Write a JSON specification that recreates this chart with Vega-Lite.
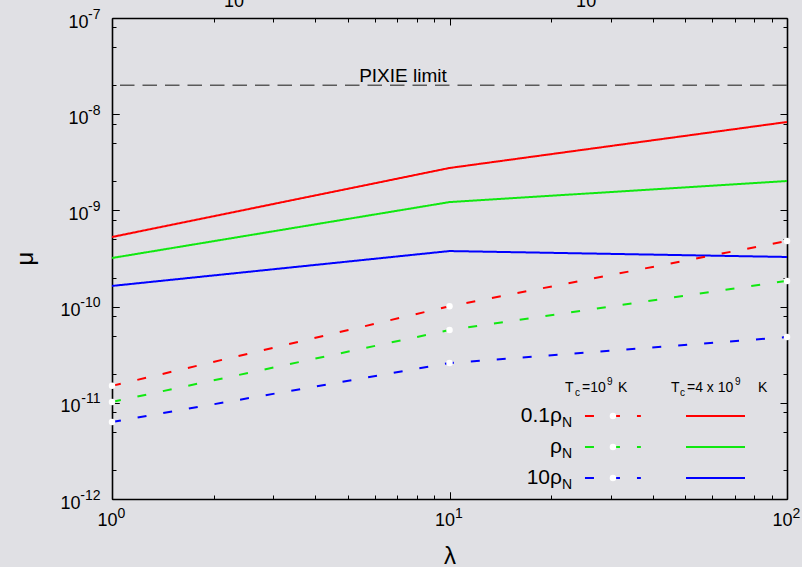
{
  "$schema": "https://vega.github.io/schema/vega-lite/v6.json",
  "width": 675,
  "height": 481,
  "autosize": {"type": "none"},
  "padding": {"left": 112, "top": 18, "right": 15, "bottom": 68},
  "background": "#e0e0e4",
  "config": {
    "view": {"stroke": null},
    "font": "Liberation Sans",
    "axis": {
      "grid": false,
      "domainColor": "#000000",
      "domainWidth": 1.6,
      "tickColor": "#000000",
      "tickWidth": 1,
      "labelColor": "#000000",
      "labelFont": "Liberation Sans",
      "labelFontSize": 18,
      "labelFlush": false,
      "labelOverlap": false,
      "titleColor": "#000000",
      "titleFont": "Liberation Sans",
      "titleFontWeight": "normal"
    },
    "text": {"font": "Liberation Sans", "color": "#000000"}
  },
  "datasets": {
    "curves": [
      {"lambda": 1, "mu": 5.29e-10, "rho": "0.1ρN", "Tc": "4e9"},
      {"lambda": 10, "mu": 2.76e-9, "rho": "0.1ρN", "Tc": "4e9"},
      {"lambda": 100, "mu": 8.3e-9, "rho": "0.1ρN", "Tc": "4e9"},
      {"lambda": 1, "mu": 3.2e-10, "rho": "ρN", "Tc": "4e9"},
      {"lambda": 10, "mu": 1.22e-9, "rho": "ρN", "Tc": "4e9"},
      {"lambda": 100, "mu": 2.02e-9, "rho": "ρN", "Tc": "4e9"},
      {"lambda": 1, "mu": 1.64e-10, "rho": "10ρN", "Tc": "4e9"},
      {"lambda": 10, "mu": 3.78e-10, "rho": "10ρN", "Tc": "4e9"},
      {"lambda": 100, "mu": 3.28e-10, "rho": "10ρN", "Tc": "4e9"},
      {"lambda": 1, "mu": 1.5e-11, "rho": "0.1ρN", "Tc": "1e9"},
      {"lambda": 10, "mu": 1.01e-10, "rho": "0.1ρN", "Tc": "1e9"},
      {"lambda": 100, "mu": 4.81e-10, "rho": "0.1ρN", "Tc": "1e9"},
      {"lambda": 1, "mu": 1.02e-11, "rho": "ρN", "Tc": "1e9"},
      {"lambda": 10, "mu": 5.71e-11, "rho": "ρN", "Tc": "1e9"},
      {"lambda": 100, "mu": 1.85e-10, "rho": "ρN", "Tc": "1e9"},
      {"lambda": 1, "mu": 6.31e-12, "rho": "10ρN", "Tc": "1e9"},
      {"lambda": 10, "mu": 2.59e-11, "rho": "10ρN", "Tc": "1e9"},
      {"lambda": 100, "mu": 4.83e-11, "rho": "10ρN", "Tc": "1e9"}
    ],
    "legendLines": [
      {"x": 25.2, "y": 7.29e-12, "rho": "0.1ρN", "Tc": "1e9"},
      {"x": 36.9, "y": 7.29e-12, "rho": "0.1ρN", "Tc": "1e9"},
      {"x": 50.2, "y": 7.29e-12, "rho": "0.1ρN", "Tc": "4e9"},
      {"x": 75.1, "y": 7.29e-12, "rho": "0.1ρN", "Tc": "4e9"},
      {"x": 25.2, "y": 3.47e-12, "rho": "ρN", "Tc": "1e9"},
      {"x": 36.9, "y": 3.47e-12, "rho": "ρN", "Tc": "1e9"},
      {"x": 50.2, "y": 3.47e-12, "rho": "ρN", "Tc": "4e9"},
      {"x": 75.1, "y": 3.47e-12, "rho": "ρN", "Tc": "4e9"},
      {"x": 25.2, "y": 1.65e-12, "rho": "10ρN", "Tc": "1e9"},
      {"x": 36.9, "y": 1.65e-12, "rho": "10ρN", "Tc": "1e9"},
      {"x": 50.2, "y": 1.65e-12, "rho": "10ρN", "Tc": "4e9"},
      {"x": 75.1, "y": 1.65e-12, "rho": "10ρN", "Tc": "4e9"}
    ],
    "legendPoints": [
      {"x": 30.5, "y": 7.29e-12},
      {"x": 30.5, "y": 3.47e-12},
      {"x": 30.5, "y": 1.65e-12}
    ],
    "legendText": [
      {"x": 21.54, "y": 7.29e-12, "text": "0.1ρ", "role": "rowMain"},
      {"x": 21.54, "y": 3.47e-12, "text": "ρ", "role": "rowMain"},
      {"x": 21.54, "y": 1.65e-12, "text": "10ρ", "role": "rowMain"},
      {"x": 21.54, "y": 7.29e-12, "text": "N", "role": "rowSub"},
      {"x": 21.54, "y": 3.47e-12, "text": "N", "role": "rowSub"},
      {"x": 21.54, "y": 1.65e-12, "text": "N", "role": "rowSub"},
      {"x": 21.99, "y": 1.294e-11, "text": "T", "role": "head"},
      {"x": 23.54, "y": 1.294e-11, "text": "c", "role": "headSub"},
      {"x": 24.7, "y": 1.294e-11, "text": "=10", "role": "head"},
      {"x": 29.29, "y": 1.294e-11, "text": "9", "role": "headSup"},
      {"x": 31.57, "y": 1.294e-11, "text": "K", "role": "head"},
      {"x": 45.33, "y": 1.294e-11, "text": "T", "role": "head"},
      {"x": 48.19, "y": 1.294e-11, "text": "c", "role": "headSub"},
      {"x": 50.54, "y": 1.294e-11, "text": "=4 x 10", "role": "head"},
      {"x": 70.15, "y": 1.294e-11, "text": "9", "role": "headSup"},
      {"x": 82.06, "y": 1.294e-11, "text": "K", "role": "head"}
    ],
    "pixie": [{"x": 7.28, "mu": 2e-8, "label": "PIXIE limit"}],
    "topLabels": [
      {"x": 2.3, "y": 1.3e-7, "text": "10"},
      {"x": 25.4, "y": 1.3e-7, "text": "10"}
    ]
  },
  "resolve": {"axis": {"x": "independent", "y": "independent"}},
  "layer": [
    {
      "data": {"name": "pixie"},
      "mark": {"type": "rule", "color": "#5a5a5a", "strokeWidth": 1.5, "strokeDash": [14.5, 8]},
      "encoding": {
        "y": {"field": "mu", "type": "quantitative", "scale": {"type": "log", "domain": [1e-12, 1e-7], "nice": false}, "axis": null}
      }
    },
    {
      "data": {"name": "curves"},
      "mark": {"type": "line", "strokeWidth": 2},
      "encoding": {
        "x": {
          "field": "lambda", "type": "quantitative",
          "scale": {"type": "log", "domain": [1, 100], "nice": false},
          "axis": {
            "orient": "bottom", "values": [1, 10, 100],
            "labelExpr": "'10'",
            "tickSize": -7, "labelPadding": 19, "labelBaseline": "top",
            "labelAlign": "right", "labelOffset": 5,
            "title": "λ", "titleFontSize": 24, "titleY": 64, "titleBaseline": "alphabetic"
          }
        },
        "y": {
          "field": "mu", "type": "quantitative",
          "scale": {"type": "log", "domain": [1e-12, 1e-7], "nice": false},
          "axis": {
            "orient": "left", "values": [1e-12, 1e-11, 1e-10, 1e-9, 1e-8, 1e-7],
            "labelExpr": "'10'",
            "tickSize": -7,
            "labelPadding": {"condition": {"test": "datum.value < 3e-10", "value": 39}, "value": 31},
            "labelOffset": 4,
            "title": "μ", "titleFontSize": 24, "titleX": -87, "titleY": 240,
            "titleAngle": -90, "titleAlign": "center", "titleBaseline": "middle"
          }
        },
        "color": {
          "field": "rho", "type": "nominal",
          "scale": {"domain": ["0.1ρN", "ρN", "10ρN"], "range": ["#ff0000", "#10e810", "#0000ff"]},
          "legend": null
        },
        "strokeDash": {
          "field": "Tc", "type": "nominal",
          "scale": {"domain": ["1e9", "4e9"], "range": [[9, 17], [1, 0]]},
          "legend": null
        }
      }
    },
    {
      "data": {"name": "curves"},
      "transform": [{"filter": "datum.Tc === '1e9'"}],
      "mark": {"type": "point", "filled": true, "color": "#ffffff", "opacity": 1, "size": 42},
      "encoding": {
        "x": {
          "field": "lambda", "type": "quantitative",
          "scale": {"type": "log", "domain": [1, 100], "nice": false},
          "axis": {
            "orient": "bottom", "values": [2, 3, 4, 5, 6, 7, 8, 9, 20, 30, 40, 50, 60, 70, 80, 90],
            "tickSize": -4, "labels": false, "domain": false, "title": null
          }
        },
        "y": {
          "field": "mu", "type": "quantitative",
          "scale": {"type": "log", "domain": [1e-12, 1e-7], "nice": false},
          "axis": {
            "orient": "left",
            "values": [2e-12, 5e-12, 8e-12, 2e-11, 5e-11, 8e-11, 2e-10, 5e-10, 8e-10, 2e-9, 5e-9, 8e-9, 2e-8, 5e-8, 8e-8],
            "tickSize": -4, "labels": false, "domain": false, "title": null
          }
        }
      }
    },
    {
      "data": {"name": "legendLines"},
      "mark": {"type": "line", "strokeWidth": 2},
      "encoding": {
        "x": {
          "field": "x", "type": "quantitative",
          "scale": {"type": "log", "domain": [1, 100], "nice": false},
          "axis": {"orient": "top", "values": [1, 10, 100], "tickSize": -7, "labels": false, "title": null}
        },
        "y": {
          "field": "y", "type": "quantitative",
          "scale": {"type": "log", "domain": [1e-12, 1e-7], "nice": false},
          "axis": {"orient": "right", "values": [1e-12, 1e-11, 1e-10, 1e-9, 1e-8, 1e-7], "tickSize": -7, "labels": false, "title": null}
        },
        "color": {"field": "rho", "type": "nominal", "legend": null},
        "strokeDash": {"field": "Tc", "type": "nominal", "legend": null}
      }
    },
    {
      "data": {"name": "legendPoints"},
      "mark": {"type": "point", "filled": true, "color": "#ffffff", "opacity": 1, "size": 42},
      "encoding": {
        "x": {
          "field": "x", "type": "quantitative",
          "scale": {"type": "log", "domain": [1, 100], "nice": false},
          "axis": {
            "orient": "top", "values": [2, 3, 4, 5, 6, 7, 8, 9, 20, 30, 40, 50, 60, 70, 80, 90],
            "tickSize": -4, "labels": false, "domain": false, "title": null
          }
        },
        "y": {
          "field": "y", "type": "quantitative",
          "scale": {"type": "log", "domain": [1e-12, 1e-7], "nice": false},
          "axis": {
            "orient": "right",
            "values": [2e-12, 5e-12, 8e-12, 2e-11, 5e-11, 8e-11, 2e-10, 5e-10, 8e-10, 2e-9, 5e-9, 8e-9, 2e-8, 5e-8, 8e-8],
            "tickSize": -4, "labels": false, "domain": false, "title": null
          }
        }
      }
    },
    {
      "data": {"name": "pixie"},
      "mark": {"type": "text", "fontSize": 19, "align": "center", "baseline": "alphabetic", "dy": -3},
      "encoding": {
        "x": {
          "field": "x", "type": "quantitative",
          "scale": {"type": "log", "domain": [1, 100], "nice": false},
          "axis": {
            "orient": "bottom", "values": [1, 10, 100],
            "labelExpr": "['0','1','2'][round(log(datum.value)/LN10)]",
            "tickSize": -7, "labelPadding": 14, "labelBaseline": "top",
            "labelAlign": "left", "labelOffset": 5, "labelFontSize": 14,
            "domain": false, "title": null
          }
        },
        "y": {
          "field": "mu", "type": "quantitative",
          "scale": {"type": "log", "domain": [1e-12, 1e-7], "nice": false},
          "axis": {
            "orient": "left", "values": [1e-12, 1e-11, 1e-10, 1e-9, 1e-8, 1e-7],
            "labelExpr": "['-12','-11','-10','-9','-8','-7'][round(log(datum.value)/LN10)+12]",
            "tickSize": -7, "labelPadding": 19, "labelOffset": -4, "labelFontSize": 14,
            "domain": false, "title": null
          }
        },
        "text": {"field": "label"}
      }
    },
    {
      "data": {"name": "topLabels"},
      "mark": {"type": "text", "fontSize": 18, "align": "center", "baseline": "alphabetic"},
      "encoding": {
        "x": {"field": "x", "type": "quantitative", "scale": {"type": "log", "domain": [1, 100], "nice": false}, "axis": null},
        "y": {"field": "y", "type": "quantitative", "scale": {"type": "log", "domain": [1e-12, 1e-7], "nice": false}, "axis": null},
        "text": {"field": "text"}
      }
    },
    {
      "data": {"name": "legendText"},
      "transform": [{"filter": "datum.role === 'rowMain'"}],
      "mark": {"type": "text", "fontSize": 21, "align": "right", "baseline": "alphabetic", "dy": 6},
      "encoding": {
        "x": {"field": "x", "type": "quantitative", "scale": {"type": "log", "domain": [1, 100], "nice": false}, "axis": null},
        "y": {"field": "y", "type": "quantitative", "scale": {"type": "log", "domain": [1e-12, 1e-7], "nice": false}, "axis": null},
        "text": {"field": "text"}
      }
    },
    {
      "data": {"name": "legendText"},
      "transform": [{"filter": "datum.role === 'rowSub'"}],
      "mark": {"type": "text", "fontSize": 14, "align": "left", "baseline": "alphabetic", "dy": 11},
      "encoding": {
        "x": {"field": "x", "type": "quantitative", "scale": {"type": "log", "domain": [1, 100], "nice": false}, "axis": null},
        "y": {"field": "y", "type": "quantitative", "scale": {"type": "log", "domain": [1e-12, 1e-7], "nice": false}, "axis": null},
        "text": {"field": "text"}
      }
    },
    {
      "data": {"name": "legendText"},
      "transform": [{"filter": "datum.role === 'head'"}],
      "mark": {"type": "text", "fontSize": 14, "align": "left", "baseline": "alphabetic"},
      "encoding": {
        "x": {"field": "x", "type": "quantitative", "scale": {"type": "log", "domain": [1, 100], "nice": false}, "axis": null},
        "y": {"field": "y", "type": "quantitative", "scale": {"type": "log", "domain": [1e-12, 1e-7], "nice": false}, "axis": null},
        "text": {"field": "text"}
      }
    },
    {
      "data": {"name": "legendText"},
      "transform": [{"filter": "datum.role === 'headSub'"}],
      "mark": {"type": "text", "fontSize": 10, "align": "left", "baseline": "alphabetic", "dy": 4},
      "encoding": {
        "x": {"field": "x", "type": "quantitative", "scale": {"type": "log", "domain": [1, 100], "nice": false}, "axis": null},
        "y": {"field": "y", "type": "quantitative", "scale": {"type": "log", "domain": [1e-12, 1e-7], "nice": false}, "axis": null},
        "text": {"field": "text"}
      }
    },
    {
      "data": {"name": "legendText"},
      "transform": [{"filter": "datum.role === 'headSup'"}],
      "mark": {"type": "text", "fontSize": 10, "align": "left", "baseline": "alphabetic", "dy": -7},
      "encoding": {
        "x": {"field": "x", "type": "quantitative", "scale": {"type": "log", "domain": [1, 100], "nice": false}, "axis": null},
        "y": {"field": "y", "type": "quantitative", "scale": {"type": "log", "domain": [1e-12, 1e-7], "nice": false}, "axis": null},
        "text": {"field": "text"}
      }
    }
  ]
}
